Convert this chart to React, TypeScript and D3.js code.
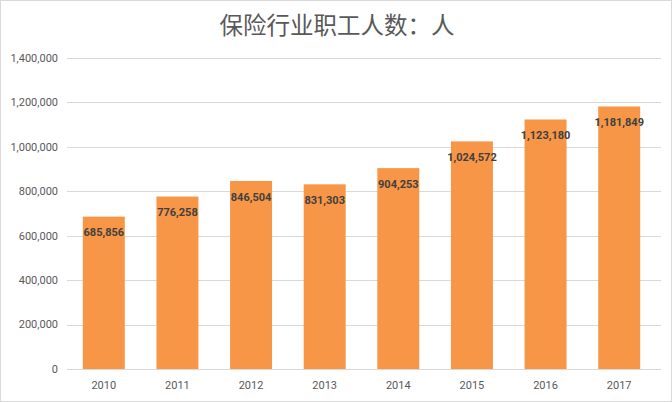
import React from "react";
import * as d3 from "d3";

const title = "保险行业职工人数：人";
const years = ["2010", "2011", "2012", "2013", "2014", "2015", "2016", "2017"];
const workers = [685856, 776258, 846504, 831303, 904253, 1024572, 1123180, 1181849];
const yTicks = [0, 200000, 400000, 600000, 800000, 1000000, 1200000, 1400000];

const W = 672;
const H = 402;
const plot = { left: 67, right: 661, top: 58, bottom: 369 };

export default function App() {
  const x = d3.scaleBand<string>().domain(years).range([plot.left, 656]).paddingInner(0.43).paddingOuter(0.215);
  const y = d3.scaleLinear().domain([0, 1400000]).range([plot.bottom, plot.top]);
  const fmt = d3.format(",");
  const font = "Roboto, 'Liberation Sans', sans-serif";
  return (
    <svg width={W} height={H} style={{ position: "absolute", left: 0, top: 0 }}>
      <rect x={0.5} y={0.5} width={W - 1} height={H - 1} fill="#fff" stroke="#d9d9d9" />
      <text x={337} y={34} textAnchor="middle" fontSize={23.5} fill="#595959" fontFamily="'Noto Sans CJK SC', sans-serif">
        {title}
      </text>
      {yTicks.map((t) => (
        <g key={t}>
          <line x1={plot.left} x2={plot.right} y1={Math.round(y(t)) + 0.5} y2={Math.round(y(t)) + 0.5} stroke="#d9d9d9" />
          <text x={58} y={y(t)} dy="0.35em" textAnchor="end" fontSize={11} fill="#595959" fontFamily={font}>
            {fmt(t)}
          </text>
        </g>
      ))}
      {years.map((yr, i) => (
        <g key={yr}>
          <rect x={x(yr)} y={y(workers[i])} width={x.bandwidth()} height={y(0) - y(workers[i])} fill="#f79646" />
          <text x={(x(yr) as number) + x.bandwidth() / 2} y={y(workers[i]) + 16} dy="0.35em" textAnchor="middle" fontSize={11} fontWeight="bold" fill="#404040" fontFamily={font}>
            {fmt(workers[i])}
          </text>
          <text x={(x(yr) as number) + x.bandwidth() / 2} y={385} dy="0.35em" textAnchor="middle" fontSize={11} fill="#595959" fontFamily={font}>
            {yr}
          </text>
        </g>
      ))}
      <line x1={plot.left} x2={plot.right} y1={plot.bottom + 0.5} y2={plot.bottom + 0.5} stroke="#d9d9d9" />
    </svg>
  );
}
